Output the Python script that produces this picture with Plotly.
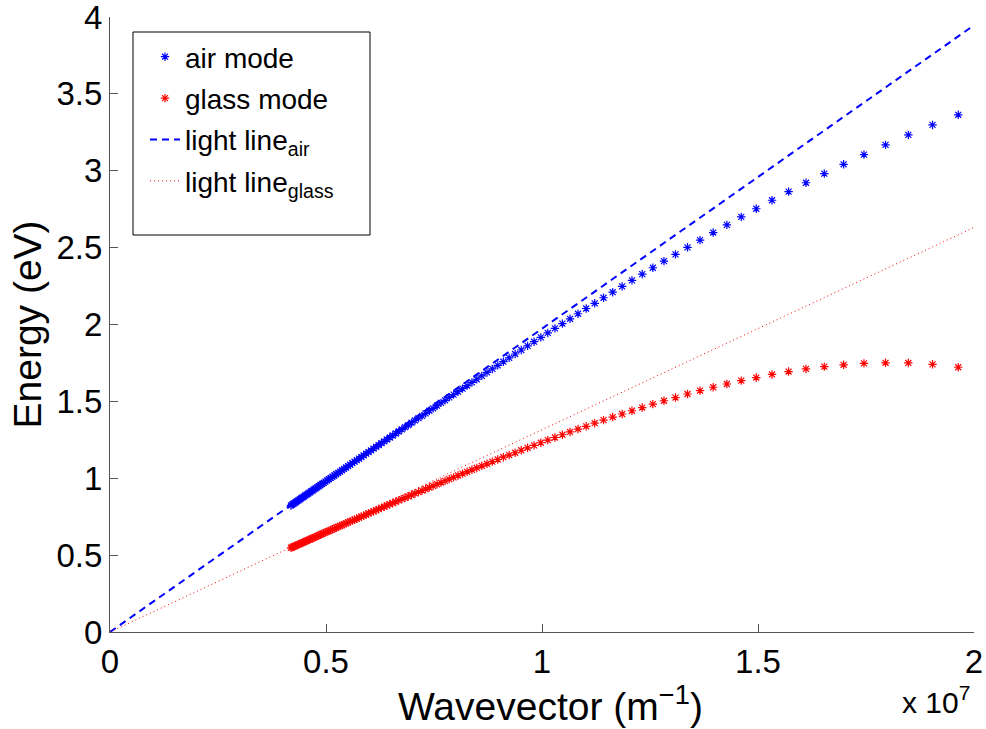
import plotly.graph_objects as go

# Wavevector in units of 1e7 m^-1
k_mode = [1.9635,1.9040,1.8480,1.7952,1.7453,1.6982,1.6535,1.6111,1.5708,1.5325,1.4960,1.4612,1.4280,1.3963,1.3659,1.3368,1.3090,1.2823,1.2566,1.2320,1.2083,1.1855,1.1636,1.1424,1.1220,1.1023,1.0833,1.0649,1.0472,1.0300,
          1.0134,0.9973,0.9817,0.9666,0.9520,0.9378,0.9240,0.9106,0.8976,0.8850,0.8727,0.8607,0.8491,0.8378,0.8267,0.8160,0.8055,0.7953,0.7854,0.7757,0.7662,0.7570,0.7480,0.7392,0.7306,0.7222,0.7140,0.7060,0.6981,0.6905,
          0.6830,0.6756,0.6684,0.6614,0.6545,0.6478,0.6411,0.6347,0.6283,0.6221,0.6160,0.6100,0.6042,0.5984,0.5928,0.5872,0.5818,0.5764,0.5712,0.5661,0.5610,0.5560,0.5512,0.5464,0.5417,0.5370,0.5325,0.5280,0.5236,0.5193,
          0.5150,0.5108,0.5067,0.5027,0.4987,0.4947,0.4909,0.4871,0.4833,0.4796,0.4760,0.4724,0.4689,0.4654,0.4620,0.4586,0.4553,0.4520,0.4488,0.4456,0.4425,0.4394,0.4363,0.4333,0.4304,0.4274,0.4245,0.4217,0.4189]

# Energy (eV) of the air mode
E_air = [3.364,3.298,3.233,3.168,3.105,3.042,2.981,2.922,2.864,2.808,2.753,2.700,2.648,2.598,2.549,2.502,2.456,2.412,2.369,2.328,2.287,2.248,2.210,2.174,2.138,2.104,2.070,2.037,2.006,1.975,
         1.945,1.916,1.888,1.861,1.834,1.808,1.783,1.758,1.734,1.711,1.688,1.666,1.644,1.623,1.603,1.583,1.563,1.544,1.526,1.507,1.490,1.472,1.455,1.439,1.422,1.406,1.391,1.376,1.361,1.346,
         1.332,1.318,1.304,1.291,1.278,1.265,1.252,1.240,1.228,1.216,1.204,1.193,1.181,1.170,1.160,1.149,1.138,1.128,1.118,1.108,1.098,1.089,1.079,1.070,1.061,1.052,1.043,1.035,1.026,1.018,
         1.010,1.002,0.994,0.986,0.978,0.970,0.963,0.956,0.948,0.941,0.934,0.927,0.920,0.914,0.907,0.900,0.894,0.888,0.881,0.875,0.869,0.863,0.857,0.851,0.845,0.840,0.834,0.829,0.823]

# Energy (eV) of the glass mode
E_glass = [1.722,1.741,1.750,1.751,1.747,1.738,1.726,1.711,1.694,1.675,1.655,1.635,1.613,1.592,1.570,1.548,1.525,1.504,1.482,1.460,1.439,1.418,1.398,1.378,1.358,1.338,1.320,1.301,1.283,1.265,
           1.248,1.231,1.214,1.198,1.182,1.166,1.151,1.137,1.122,1.108,1.094,1.081,1.067,1.055,1.042,1.030,1.018,1.006,0.994,0.983,0.972,0.961,0.950,0.940,0.930,0.920,0.910,0.901,0.891,0.882,
           0.873,0.864,0.856,0.847,0.839,0.831,0.823,0.815,0.807,0.800,0.792,0.785,0.778,0.771,0.764,0.757,0.750,0.744,0.737,0.731,0.725,0.719,0.713,0.707,0.701,0.695,0.690,0.684,0.679,0.673,
           0.668,0.663,0.658,0.653,0.648,0.643,0.638,0.633,0.629,0.624,0.619,0.615,0.610,0.606,0.602,0.598,0.593,0.589,0.585,0.581,0.577,0.573,0.570,0.566,0.562,0.558,0.555,0.551,0.548]

# Light lines
k_line = [0, 2]
E_line_air = [0, 3.946]
E_line_glass = [0, 2.631]

x_ticks = [0, 0.5, 1, 1.5, 2]
x_ticklabels = ["0", "0.5", "1", "1.5", "2"]
y_ticks = [0, 0.5, 1, 1.5, 2, 2.5, 3, 3.5, 4]
y_ticklabels = ["0", "0.5", "1", "1.5", "2", "2.5", "3", "3.5", "4"]

FONT = "Liberation Sans, Arial, Helvetica, sans-serif"
BLUE = "#0000ff"
RED = "#ff0000"

fig = go.Figure()
fig.add_trace(go.Scatter(x=k_mode, y=E_air, mode="markers", name="air mode",
                         marker=dict(symbol="asterisk-open", size=7, color=BLUE, line=dict(color=BLUE, width=1.2)),
                         legendgroup="a"))
fig.add_trace(go.Scatter(x=k_mode, y=E_glass, mode="markers", name="glass mode",
                         marker=dict(symbol="asterisk-open", size=7, color=RED, line=dict(color=RED, width=1.2)),
                         legendgroup="b"))
fig.add_trace(go.Scatter(x=k_line, y=E_line_air, mode="lines", name="light line<sub>air</sub>",
                         line=dict(color=BLUE, width=2, dash="7px,5px"), legendgroup="c"))
fig.add_trace(go.Scatter(x=k_line, y=E_line_glass, mode="lines", name="light line<sub>glass</sub>",
                         line=dict(color=RED, width=1, dash="1px,3px"), legendgroup="d"))

axis_common = dict(showgrid=False, zeroline=False, showline=True, linecolor="#555555", linewidth=1,
                   ticks="inside", ticklen=8, tickcolor="#555555", tickwidth=1, mirror=False,
                   automargin=False, ticklabeloverflow="allow",
                   tickfont=dict(family=FONT, size=33, color="black"))

L, R, T, B = 110, 12, 17, 97
H_PLOT = 729 - T - B
fig.update_layout(
    width=986, height=729,
    margin=dict(l=L, r=R, t=T, b=B),
    plot_bgcolor="white", paper_bgcolor="white",
    font=dict(family=FONT, color="black"),
    xaxis=dict(range=[0, 2], tickvals=x_ticks, ticktext=x_ticklabels, **axis_common),
    yaxis=dict(range=[0, 4], tickvals=y_ticks, ticktext=y_ticklabels, **axis_common),
    legend=dict(x=(145 - L) / 864, y=(632 - 32) / H_PLOT, xanchor="left", yanchor="top", bgcolor="rgba(0,0,0,0)",
                borderwidth=0, font=dict(family=FONT, size=28, color="black"),
                tracegroupgap=2, itemwidth=30),
    showlegend=True,
)

# legend frame
fig.add_shape(type="rect", xref="paper", yref="paper",
              x0=(133 - L) / 864, x1=(370 - L) / 864,
              y0=(632 - 235) / H_PLOT, y1=(632 - 32) / H_PLOT,
              line=dict(color="black", width=1), fillcolor="rgba(0,0,0,0)", layer="above")

# axis titles
fig.add_annotation(x=(550 - L) / 864, y=(632 - 703) / H_PLOT, xref="paper", yref="paper", xanchor="center", yanchor="middle",
                   text="Wavevector (m<sup>−1</sup>)", showarrow=False, font=dict(family=FONT, size=39, color="black"))
fig.add_annotation(x=(27 - L) / 864, y=0.5, xref="paper", yref="paper", xanchor="center", yanchor="middle",
                   text="Energy (eV)", textangle=-90, showarrow=False, font=dict(family=FONT, size=39, color="black"))

# x 10^7 multiplier
fig.add_annotation(x=(972 - L) / 864, y=(632 - 700) / H_PLOT, xref="paper", yref="paper", xanchor="right", yanchor="middle",
                   text="x 10<sup>7</sup>", showarrow=False, font=dict(family=FONT, size=30, color="black"))

fig.write_html("out.html", config={"displayModeBar": False},
               post_script="document.body.style.margin='0';")
